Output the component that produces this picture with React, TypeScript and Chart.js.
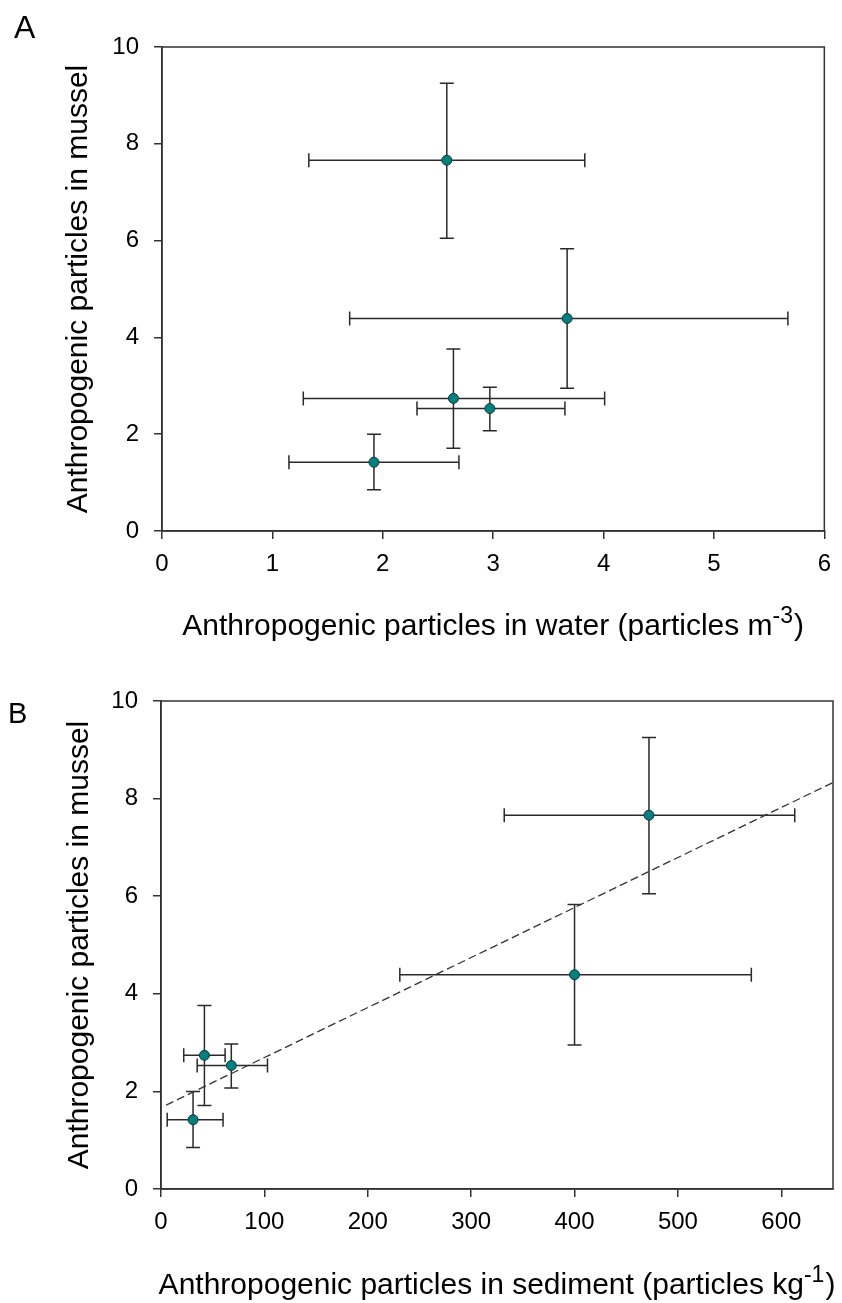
import React, { useEffect, useRef } from "react";
import { Chart, registerables } from "chart.js";

Chart.register(...registerables);

// ---- Data ----
const musselMean = [1.42, 2.74, 2.53, 4.39, 7.66];
const musselLow = [0.85, 1.71, 2.07, 2.95, 6.05];
const musselHigh = [2.0, 3.76, 2.97, 5.83, 9.25];

const waterMean = [1.92, 2.64, 2.97, 3.67, 2.58];
const waterLow = [1.15, 1.28, 2.31, 1.7, 1.33];
const waterHigh = [2.69, 4.01, 3.65, 5.67, 3.83];

const sedimentMean = [31, 42, 68, 400, 472];
const sedimentLow = [6, 22, 35, 231, 332];
const sedimentHigh = [60, 62, 103, 571, 613];

const trendX = [5, 650];
const trendY = [1.72, 8.33];

const yTickValues = [0, 2, 4, 6, 8, 10];
const waterTickValues = [0, 1, 2, 3, 4, 5, 6];
const sedimentTickValues = [0, 100, 200, 300, 400, 500, 600];

const FONT = '"Liberation Sans", Arial, Helvetica, sans-serif';

type PanelCfg = {
  letter: string;
  letterSize: number;
  letterX: number;
  letterY: number;
  height: number;
  padTop: number;
  padRight: number;
  yWidth: number;
  xHeight: number;
  xMin: number;
  xMax: number;
  xStep: number;
  xTicks: number[];
  xMean: number[];
  xLow: number[];
  xHigh: number[];
  xTitle: string;
  xSup: string;
  xTitleBaseline: number;
  yTitleX: number;
  trend: boolean;
};

const errorBarPlugin = {
  id: "errorBars",
  beforeDatasetsDraw(chart: any, _args: any, opts: any) {
    const { ctx, scales } = chart;
    const xs = scales.x;
    const ys = scales.y;
    const cap = 7;
    ctx.save();
    ctx.strokeStyle = "#2a2a2a";
    ctx.lineWidth = 1.5;
    for (let i = 0; i < opts.xMean.length; i++) {
      const px = xs.getPixelForValue(opts.xMean[i]);
      const py = ys.getPixelForValue(opts.yMean[i]);
      const xl = xs.getPixelForValue(opts.xLow[i]);
      const xh = xs.getPixelForValue(opts.xHigh[i]);
      const yl = ys.getPixelForValue(opts.yLow[i]);
      const yh = ys.getPixelForValue(opts.yHigh[i]);
      ctx.beginPath();
      // horizontal
      ctx.moveTo(xl, py);
      ctx.lineTo(xh, py);
      ctx.moveTo(xl, py - cap);
      ctx.lineTo(xl, py + cap);
      ctx.moveTo(xh, py - cap);
      ctx.lineTo(xh, py + cap);
      // vertical
      ctx.moveTo(px, yl);
      ctx.lineTo(px, yh);
      ctx.moveTo(px - cap, yl);
      ctx.lineTo(px + cap, yl);
      ctx.moveTo(px - cap, yh);
      ctx.lineTo(px + cap, yh);
      ctx.stroke();
    }
    ctx.restore();
  },
};

const framePlugin = {
  id: "frame",
  beforeDatasetsDraw(chart: any) {
    const { ctx, chartArea: a } = chart;
    ctx.save();
    ctx.strokeStyle = "#333";
    ctx.lineWidth = 1.5;
    ctx.strokeRect(a.left, a.top, a.right - a.left, a.bottom - a.top);
    ctx.restore();
  },
};

const titlePlugin = {
  id: "titles",
  afterDraw(chart: any, _args: any, opts: any) {
    const { ctx, chartArea: a } = chart;
    ctx.save();
    ctx.fillStyle = "#000";
    // panel letter
    ctx.font = `${opts.letterSize}px ${FONT}`;
    ctx.textAlign = "left";
    ctx.textBaseline = "alphabetic";
    ctx.fillText(opts.letter, opts.letterX, opts.letterY);

    // y title
    ctx.save();
    ctx.font = `30px ${FONT}`;
    ctx.translate(opts.yTitleX, (a.top + a.bottom) / 2);
    ctx.rotate(-Math.PI / 2);
    ctx.textAlign = "center";
    ctx.fillText(opts.yTitle, 0, 0);
    ctx.restore();

    // x title with superscript
    const mainFont = `30px ${FONT}`;
    const supFont = `23px ${FONT}`;
    ctx.font = mainFont;
    const wMain = ctx.measureText(opts.xTitle).width;
    const wClose = ctx.measureText(")").width;
    ctx.font = supFont;
    const wSup = ctx.measureText(opts.xSup).width;
    const total = wMain + wSup + wClose + 1;
    let x = (a.left + a.right) / 2 - total / 2;
    const base = opts.xTitleBaseline;
    ctx.textAlign = "left";
    ctx.font = mainFont;
    ctx.fillText(opts.xTitle, x, base);
    x += wMain;
    ctx.font = supFont;
    ctx.fillText(opts.xSup, x, base - 12);
    x += wSup + 1;
    ctx.font = mainFont;
    ctx.fillText(")", x, base);
    ctx.restore();
  },
};

function Panel({ cfg }: { cfg: PanelCfg }) {
  const ref = useRef<HTMLCanvasElement | null>(null);
  useEffect(() => {
    if (!ref.current) return;
    const points = cfg.xMean.map((v, i) => ({ x: v, y: musselMean[i] }));
    const datasets: any[] = [];
    if (cfg.trend) {
      datasets.push({
        type: "line",
        data: trendX.map((v, i) => ({ x: v, y: trendY[i] })),
        borderColor: "#333",
        borderWidth: 1.3,
        borderDash: [8, 4],
        pointRadius: 0,
        showLine: true,
        fill: false,
        order: 1,
      });
    }
    datasets.push({
      type: "scatter",
      data: points,
      pointRadius: 5,
      pointBackgroundColor: "#008080",
      pointBorderColor: "#1e3535",
      pointBorderWidth: 1,
      showLine: false,
      order: 0,
    });
    const tickFont = { family: FONT, size: 24 };
    const chart = new Chart(ref.current, {
      type: "scatter",
      data: { datasets },
      plugins: [framePlugin, errorBarPlugin, titlePlugin],
      options: {
        animation: false,
        responsive: false,
        devicePixelRatio: 1,
        layout: {
          padding: { top: cfg.padTop, right: cfg.padRight, left: 0, bottom: 0 },
        },
        plugins: {
          legend: { display: false },
          tooltip: { enabled: false },
          errorBars: {
            xMean: cfg.xMean,
            xLow: cfg.xLow,
            xHigh: cfg.xHigh,
            yMean: musselMean,
            yLow: musselLow,
            yHigh: musselHigh,
          },
          titles: {
            letter: cfg.letter,
            letterSize: cfg.letterSize,
            letterX: cfg.letterX,
            letterY: cfg.letterY,
            yTitle: "Anthropogenic particles in mussel",
            yTitleX: cfg.yTitleX,
            xTitle: cfg.xTitle,
            xSup: cfg.xSup,
            xTitleBaseline: cfg.xTitleBaseline,
          },
        } as any,
        scales: {
          x: {
            type: "linear",
            min: cfg.xMin,
            max: cfg.xMax,
            afterFit: (s: any) => {
              s.height = cfg.xHeight;
            },
            afterBuildTicks: (s: any) => {
              s.ticks = cfg.xTicks.map((v) => ({ value: v }));
            },
            ticks: {
              stepSize: cfg.xStep,
              includeBounds: false,
              autoSkip: false,
              maxRotation: 0,
              minRotation: 0,
              color: "#000",
              font: tickFont,
              padding: 11,
            },
            grid: {
              display: true,
              drawOnChartArea: false,
              drawTicks: true,
              tickLength: 8,
              color: "#333",
              lineWidth: 1.5,
            },
            border: { display: true, color: "#333", width: 1.5 },
          },
          y: {
            type: "linear",
            min: 0,
            max: 10,
            afterFit: (s: any) => {
              s.width = cfg.yWidth;
            },
            afterBuildTicks: (s: any) => {
              s.ticks = yTickValues.map((v) => ({ value: v }));
            },
            ticks: {
              stepSize: 2,
              autoSkip: false,
              color: "#000",
              font: tickFont,
              padding: 15,
            },
            grid: {
              display: true,
              drawOnChartArea: false,
              drawTicks: true,
              tickLength: 8,
              color: "#333",
              lineWidth: 1.5,
            },
            border: { display: true, color: "#333", width: 1.5 },
          },
        },
      } as any,
    });
    return () => chart.destroy();
  }, [cfg]);
  return (
    <canvas
      ref={ref}
      width={842}
      height={cfg.height}
      style={{ display: "block", width: 842, height: cfg.height }}
    />
  );
}

const panelA: PanelCfg = {
  letter: "A",
  letterSize: 32,
  letterX: 14,
  letterY: 38,
  height: 650,
  padTop: 47,
  padRight: 8,
  yWidth: 162,
  xHeight: 650 - 531,
  xMin: 0,
  xMax: 6,
  xStep: 1,
  xTicks: waterTickValues,
  xMean: waterMean,
  xLow: waterLow,
  xHigh: waterHigh,
  xTitle: "Anthropogenic particles in water (particles m",
  xSup: "-3",
  xTitleBaseline: 635,
  yTitleX: 87,
  trend: false,
};

const panelB: PanelCfg = {
  letter: "B",
  letterSize: 29,
  letterX: 8,
  letterY: 73,
  height: 653,
  padTop: 51,
  padRight: 9,
  yWidth: 161,
  xHeight: 653 - 539,
  xMin: 0,
  xMax: 650,
  xStep: 100,
  xTicks: sedimentTickValues,
  xMean: sedimentMean,
  xLow: sedimentLow,
  xHigh: sedimentHigh,
  xTitle: "Anthropogenic particles in sediment (particles kg",
  xSup: "-1",
  xTitleBaseline: 644,
  yTitleX: 88,
  trend: true,
};

export default function App() {
  return (
    <div
      style={{
        position: "absolute",
        left: 0,
        top: 0,
        width: 842,
        height: 1303,
        background: "#fff",
      }}
    >
      <Panel cfg={panelA} />
      <Panel cfg={panelB} />
    </div>
  );
}
